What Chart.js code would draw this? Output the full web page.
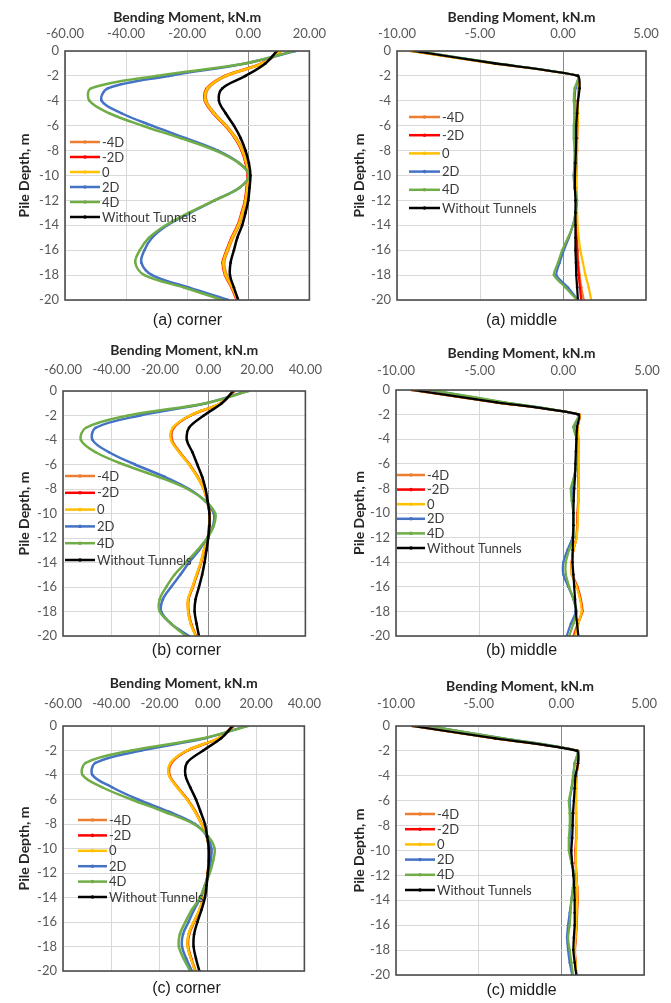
<!DOCTYPE html>
<html>
<head>
<meta charset="utf-8">
<title>Pile bending moment profiles</title>
<script src="https://cdn.jsdelivr.net/npm/chart.js@4.4.1/dist/chart.umd.min.js"></script>
<style>
  body { margin: 0; background: #fff; }
  #wrap { position: relative; width: 671px; height: 1003px; overflow: hidden; }
  #wrap canvas { position: absolute; }
  .cap {
    position: absolute;
    font: 16px "Liberation Sans", Arial, sans-serif;
    color: #1a1a1a;
    white-space: nowrap;
    transform: translate(-50%, -50%);
  }
</style>
</head>
<body>
<div id="wrap"></div>
<script>
// pile depth (m) at each output node
const depth = [0, -1, -2, -3, -4, -5, -6, -7, -8, -9, -10, -11, -12, -13, -14, -15, -16, -17, -18, -19, -20];
const seriesNames = ['-4D', '-2D', '0', '2D', '4D', 'Without Tunnels'];
const seriesColors = ['#ED7D31', '#FF0000', '#FFC000', '#4472C4', '#70AD47', '#000000'];
const cornerTicks = [-60, -40, -20, 0, 20, 40];
const middleTicks = [-10, -5, 0, 5];

// (a) corner pile, bending moment kN.m
const aCornerM4D = [10.8, 4.8, -7.1, -13.1, -13.7, -11, -7.1, -3.9, -1.7, -0.4, 0.3, -0.1, -0.6, -1.7, -3, -5, -6.6, -7.9, -7.1, -5, -3.3];
const aCornerM2D = [10.3, 4.3, -7.6, -13.6, -14.2, -11.5, -7.6, -4.4, -2.2, -0.9, -0.2, -0.6, -1.1, -2.2, -3.5, -5.5, -7.1, -8.4, -7.6, -5.5, -3.8];
const aCorner0 = [10.5, 4.5, -7.4, -13.4, -14, -11.3, -7.4, -4.2, -2, -0.7, 0, -0.4, -0.9, -2, -3.3, -5.3, -6.9, -8.2, -7.4, -5.3, -3.6];
const aCorner2D = [15.5, -1, -26, -46, -48, -41.5, -31.5, -20.5, -10, -3, 0.2, -3, -11, -19, -26.5, -31.5, -34, -35, -31.5, -19.5, -6.5];
const aCorner4D = [14.9, -1, -30, -51.5, -52, -45.5, -34.6, -22.1, -10.7, -3.1, 0.2, -3, -11, -19.5, -27, -32.5, -35.5, -37, -34, -21, -8.5];
const aCornerNone = [9.4, 5.6, -0.9, -8.5, -9.6, -7.4, -4.7, -2.5, -0.9, 0.2, 0.7, 0.4, 0, -0.9, -2, -3.6, -4.7, -5.8, -6, -4.7, -3.3];

// (a) middle pile
const aMiddleM4D = [-9.2, -4.2, 0.9, 0.95, 0.9, 0.9, 0.88, 0.85, 0.85, 0.82, 0.8, 0.8, 0.82, 0.82, 0.82, 0.85, 0.88, 0.92, 1.0, 1.1, 1.25];
const aMiddleM2D = [-9.1, -4.15, 0.9, 0.95, 0.9, 0.88, 0.86, 0.84, 0.83, 0.8, 0.78, 0.78, 0.8, 0.8, 0.8, 0.82, 0.85, 0.88, 0.95, 1.02, 1.1];
const aMiddle0 = [-9.2, -4.2, 0.9, 0.95, 0.9, 0.9, 0.88, 0.85, 0.85, 0.82, 0.8, 0.8, 0.82, 0.85, 0.88, 0.95, 1.05, 1.2, 1.35, 1.55, 1.7];
const aMiddle2D = [-8.8, -4.0, 0.9, 0.75, 0.7, 0.7, 0.7, 0.7, 0.72, 0.7, 0.65, 0.7, 0.8, 0.75, 0.6, 0.35, 0.05, -0.2, -0.4, 0.3, 0.9];
const aMiddle4D = [-8.8, -4.0, 0.9, 0.7, 0.65, 0.7, 0.65, 0.65, 0.7, 0.7, 0.65, 0.7, 0.85, 0.75, 0.6, 0.3, -0.05, -0.3, -0.55, 0.15, 0.85];
const aMiddleNone = [-9.0, -4.1, 0.9, 1.0, 0.9, 0.85, 0.8, 0.8, 0.78, 0.75, 0.72, 0.72, 0.75, 0.75, 0.75, 0.75, 0.75, 0.78, 0.8, 0.85, 0.9];

// (b) corner pile
const bCornerM4D = [10.8, 5.1, -7.3, -14.3, -15, -11.8, -7.8, -4.5, -1.8, -0.4, 0.5, 0.3, -0.2, -1.7, -3, -4.7, -6.4, -8.2, -8.2, -7.1, -5.1];
const bCornerM2D = [10.6, 5, -7.5, -14.5, -15.2, -11.9, -7.9, -4.5, -1.9, -0.5, 0.5, 0.3, -0.3, -1.8, -3.1, -4.8, -6.5, -8.3, -8.3, -7.2, -5.2];
const bCorner0 = [10.5, 4.9, -7.6, -14.7, -15.4, -12, -8, -4.6, -1.9, -0.5, 0.5, 0.3, -0.3, -1.9, -3.2, -4.9, -6.6, -8.4, -8.4, -7.3, -5.3];
const bCorner2D = [16, -1, -28.2, -46.5, -47.8, -41, -30.3, -18.1, -8, -1.2, 2.2, 1.9, -0.5, -3.9, -8, -11.6, -15.4, -18.8, -19.5, -15.4, -8];
const bCorner4D = [16.6, -1.2, -33, -50.5, -52.6, -46.5, -35, -20.8, -8.6, -1.2, 2.8, 2.2, -0.5, -4.6, -9.3, -14, -17.4, -20.1, -20.1, -15.4, -9.3];
const bCornerNone = [10.3, 5.5, -1.9, -8, -8.9, -6.6, -4.6, -2.6, -1.2, -0.3, 0.4, 0.4, -0.1, -0.8, -1.6, -2.6, -3.9, -5.3, -5.7, -4.9, -3.9];

// (b) middle pile
const bMiddleM4D = [-9.1, -4.05, 0.95, 0.85, 0.88, 0.88, 0.88, 0.9, 0.88, 0.88, 0.85, 0.82, 0.78, 0.6, 0.52, 0.55, 0.85, 1.05, 1.15, 0.85, 0.6];
const bMiddleM2D = [-9.05, -4.0, 0.95, 0.85, 0.89, 0.89, 0.89, 0.9, 0.89, 0.89, 0.86, 0.83, 0.79, 0.6, 0.5, 0.52, 0.82, 1.02, 1.12, 0.88, 0.65];
const bMiddle0 = [-9.0, -4.0, 0.95, 0.85, 0.9, 0.9, 0.9, 0.92, 0.9, 0.9, 0.88, 0.85, 0.8, 0.6, 0.5, 0.5, 0.8, 1.0, 1.1, 0.9, 0.7];
const bMiddle2D = [-8.0, -3.6, 0.9, 0.65, 0.8, 0.8, 0.78, 0.65, 0.5, 0.55, 0.6, 0.6, 0.55, 0.25, 0.0, 0.0, 0.3, 0.6, 0.75, 0.45, 0.2];
const bMiddle4D = [-7.9, -3.5, 0.9, 0.6, 0.8, 0.8, 0.8, 0.65, 0.45, 0.5, 0.6, 0.6, 0.6, 0.35, 0.15, 0.15, 0.35, 0.6, 0.8, 0.6, 0.35];
const bMiddleNone = [-9.0, -4.0, 0.92, 0.82, 0.78, 0.75, 0.72, 0.7, 0.65, 0.62, 0.6, 0.6, 0.58, 0.56, 0.55, 0.6, 0.65, 0.7, 0.75, 0.82, 0.9];

// (c) corner pile
const cCornerM4D = [10.8, 4.5, -8.3, -15, -15.8, -12.5, -8.4, -5.1, -2.5, -0.4, 0.5, 0.4, 0, -0.7, -1.8, -3.3, -5.6, -7.7, -8.1, -6.8, -5.1];
const cCornerM2D = [10.6, 4.3, -8.5, -15.2, -16, -12.6, -8.5, -5.2, -2.6, -0.5, 0.5, 0.4, 0, -0.8, -1.9, -3.4, -5.8, -7.9, -8.3, -6.9, -5.2];
const cCorner0 = [10.5, 4.2, -8.6, -15.4, -16.1, -12.7, -8.6, -5.3, -2.6, -0.5, 0.5, 0.4, 0, -0.8, -1.9, -3.5, -5.9, -8, -8.4, -7, -5.3];
const cCorner2D = [16, -1.2, -27.6, -46.5, -47.8, -39.7, -28.9, -16.1, -5.3, -0.3, 1.5, 1.2, 0.3, -1.2, -3, -5.7, -8, -10.3, -10.7, -8.9, -6.6];
const cCorner4D = [16.6, -1.9, -31.6, -50.5, -51.9, -43.8, -31.6, -18.1, -5.9, 0.1, 2.8, 2.2, 0.8, -1.2, -3.2, -6.6, -9.3, -11.6, -12, -10, -7.3];
const cCornerNone = [10.3, 5.5, -1.9, -8.6, -9.3, -7.3, -4.9, -3, -1.2, -0.3, 0.4, 0.4, 0, -0.5, -1.2, -2.6, -4.3, -5.7, -5.9, -4.9, -3.5];

// (c) middle pile
const cMiddleM4D = [-9.0, -4.0, 1.0, 1.0, 0.9, 0.88, 0.88, 0.88, 0.88, 0.88, 0.85, 0.86, 0.9, 0.95, 0.98, 0.95, 0.92, 0.88, 0.82, 0.85, 0.9];
const cMiddleM2D = [-9.0, -4.0, 1.0, 1.0, 0.9, 0.88, 0.88, 0.88, 0.89, 0.89, 0.86, 0.87, 0.9, 0.95, 0.96, 0.93, 0.91, 0.86, 0.81, 0.85, 0.9];
const cMiddle0 = [-9.0, -4.0, 1.0, 1.0, 0.9, 0.88, 0.88, 0.88, 0.9, 0.9, 0.88, 0.88, 0.9, 0.95, 0.95, 0.92, 0.9, 0.85, 0.8, 0.85, 0.9];
const cMiddle2D = [-8.0, -3.5, 0.95, 0.8, 0.72, 0.62, 0.5, 0.55, 0.55, 0.5, 0.5, 0.62, 0.78, 0.7, 0.6, 0.5, 0.4, 0.34, 0.4, 0.5, 0.65];
const cMiddle4D = [-8.0, -3.5, 0.95, 0.8, 0.7, 0.6, 0.45, 0.5, 0.5, 0.45, 0.45, 0.6, 0.8, 0.7, 0.6, 0.55, 0.5, 0.4, 0.5, 0.6, 0.7];
const cMiddleNone = [-9.0, -4.0, 0.95, 1.0, 0.85, 0.8, 0.75, 0.7, 0.68, 0.65, 0.6, 0.65, 0.72, 0.78, 0.8, 0.8, 0.8, 0.75, 0.72, 0.8, 0.9];

// layout of each panel: canvas box, plot area edges (canvas coords), legend spot
const panels = [
  { caption: '(a) corner', left: 0, top: 0, w: 335, h: 335, plotL: 65, plotR: 310, plotT: 51, plotB: 300,
    ticks: cornerTicks.slice(0, 5), titleY: 17, tickPad: 9, legend: { x1: 70, x2: 100, y: 142, step: 15 }, capY: 320,
    series: [aCornerM4D, aCornerM2D, aCorner0, aCorner2D, aCorner4D, aCornerNone], tension: 0.35, width: 2.5 },
  { caption: '(a) middle', left: 335, top: 0, w: 336, h: 335, plotL: 62, plotR: 311, plotT: 51, plotB: 300,
    ticks: middleTicks, titleY: 17, tickPad: 9, legend: { x1: 74, x2: 105, y: 117, step: 18.2 }, capY: 320,
    series: [aMiddleM4D, aMiddleM2D, aMiddle0, aMiddle2D, aMiddle4D, aMiddleNone], tension: 0.2, width: 2.2 },
  { caption: '(b) corner', left: 0, top: 335, w: 335, h: 335, plotL: 63, plotR: 310, plotT: 56, plotB: 301,
    ticks: cornerTicks, titleY: 15, tickPad: 13, legend: { x1: 65, x2: 95, y: 141, step: 16.8 }, capY: 315,
    series: [bCornerM4D, bCornerM2D, bCorner0, bCorner2D, bCorner4D, bCornerNone], tension: 0.35, width: 2.5 },
  { caption: '(b) middle', left: 335, top: 335, w: 336, h: 335, plotL: 61, plotR: 312, plotT: 55, plotB: 301,
    ticks: middleTicks, titleY: 18, tickPad: 11, legend: { x1: 62, x2: 90, y: 140, step: 14.6 }, capY: 315,
    series: [bMiddleM4D, bMiddleM2D, bMiddle0, bMiddle2D, bMiddle4D, bMiddleNone], tension: 0.2, width: 2.2 },
  { caption: '(c) corner', left: 0, top: 668, w: 335, h: 335, plotL: 63, plotR: 310, plotT: 58, plotB: 303,
    ticks: cornerTicks, titleY: 15, tickPad: 14, legend: { x1: 78, x2: 107, y: 152, step: 15.4 }, capY: 320,
    series: [cCornerM4D, cCornerM2D, cCorner0, cCorner2D, cCorner4D, cCornerNone], tension: 0.35, width: 2.5 },
  { caption: '(c) middle', left: 335, top: 668, w: 336, h: 335, plotL: 61, plotR: 312, plotT: 58, plotB: 307,
    ticks: middleTicks, titleY: 18, tickPad: 14, legend: { x1: 70, x2: 100, y: 146, step: 15.2 }, capY: 322,
    series: [cMiddleM4D, cMiddleM2D, cMiddle0, cMiddle2D, cMiddle4D, cMiddleNone], tension: 0.2, width: 2.2 }
];

const tickFont = { family: 'Lato, sans-serif', size: 13 };
const titleFont = { family: 'Lato, sans-serif', size: 14, weight: 'bold' };

// legend drawn inside the plot area, Excel style
const insideLegend = {
  id: 'insideLegend',
  afterDatasetsDraw(chart, args, opts) {
    const ctx = chart.ctx;
    ctx.save();
    ctx.font = '13px Lato, sans-serif';
    ctx.textBaseline = 'middle';
    chart.data.datasets.forEach((ds, i) => {
      const y = opts.y + i * opts.step;
      ctx.strokeStyle = ds.borderColor;
      ctx.lineWidth = 2.5;
      ctx.beginPath();
      ctx.moveTo(opts.x1, y);
      ctx.lineTo(opts.x2, y);
      ctx.stroke();
      ctx.fillStyle = ds.borderColor;
      ctx.beginPath();
      ctx.arc((opts.x1 + opts.x2) / 2, y, 1.8, 0, Math.PI * 2);
      ctx.fill();
      ctx.fillStyle = '#3a3a3a';
      ctx.fillText(ds.label, opts.x2 + 2, y + 0.5);
    });
    ctx.restore();
  }
};

// dark frame round the plot area
const plotFrame = {
  id: 'plotFrame',
  afterDraw(chart) {
    const { ctx, chartArea: a } = chart;
    ctx.save();
    ctx.strokeStyle = '#4d4d4d';
    ctx.lineWidth = 1.6;
    ctx.strokeRect(a.left, a.top, a.right - a.left, a.bottom - a.top);
    ctx.restore();
  }
};

const wrap = document.getElementById('wrap');

panels.forEach(p => {
  const canvas = document.createElement('canvas');
  canvas.width = p.w;
  canvas.height = p.h;
  canvas.style.left = p.left + 'px';
  canvas.style.top = p.top + 'px';
  wrap.appendChild(canvas);

  const cap = document.createElement('div');
  cap.className = 'cap';
  cap.textContent = p.caption;
  cap.style.left = (p.left + (p.plotL + p.plotR) / 2) + 'px';
  cap.style.top = (p.top + p.capY) + 'px';
  wrap.appendChild(cap);

  const datasets = p.series.map((vals, i) => ({
    label: seriesNames[i],
    data: vals.map((v, k) => ({ x: v, y: depth[k] })),
    borderColor: seriesColors[i],
    backgroundColor: seriesColors[i],
    borderWidth: p.width,
    pointRadius: 1.3,
    pointBorderWidth: 0,
    tension: p.tension,
    order: seriesNames.length - i   // later series sit on top
  }));

  new Chart(canvas, {
    type: 'line',
    data: { datasets },
    options: {
      indexAxis: 'y',
      responsive: false,
      animation: false,
      events: [],
      layout: { padding: { left: 0, top: 0, right: p.w - p.plotR, bottom: p.h - p.plotB } },
      plugins: {
        legend: { display: false },
        tooltip: { enabled: false },
        insideLegend: p.legend
      },
      scales: {
        x: {
          type: 'linear',
          position: 'top',
          min: p.ticks[0],
          max: p.ticks[p.ticks.length - 1],
          afterBuildTicks: s => { s.ticks = p.ticks.map(v => ({ value: v })); },
          afterFit: s => { s.height = p.plotT; },
          border: { display: false },
          grid: {
            drawTicks: false,
            lineWidth: 1,
            color: c => c.tick && c.tick.value === 0 ? '#8a8a8a' : '#d9d9d9'
          },
          ticks: {
            padding: p.tickPad,
            color: '#595959',
            font: tickFont,
            callback: v => v.toFixed(2)
          },
          title: {
            display: true,
            text: 'Bending Moment, kN.m',
            color: '#262626',
            font: titleFont,
            padding: { top: p.titleY - 8.4, bottom: 0 }
          }
        },
        y: {
          type: 'linear',
          min: -20,
          max: 0,
          afterFit: s => { s.width = p.plotL; },
          border: { display: false },
          grid: { drawTicks: false, color: '#d9d9d9', lineWidth: 1 },
          ticks: {
            stepSize: 2,
            padding: 6,
            color: '#595959',
            font: tickFont
          },
          title: {
            display: true,
            text: 'Pile Depth, m',
            color: '#262626',
            font: titleFont,
            padding: { top: 16, bottom: 0 }
          }
        }
      }
    },
    plugins: [insideLegend, plotFrame]
  });
});
</script>
</body>
</html>
